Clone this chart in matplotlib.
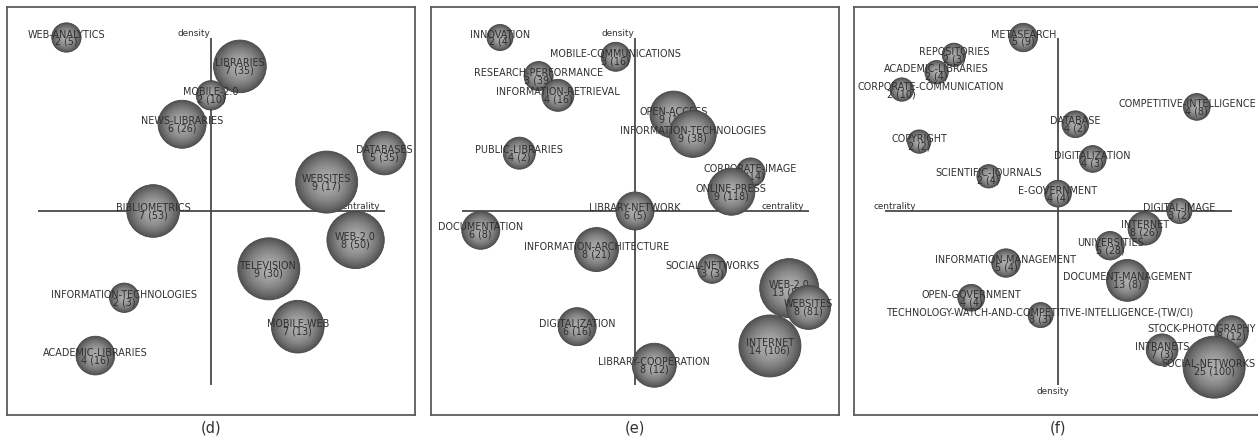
import matplotlib
matplotlib.use("Agg")
import matplotlib.pyplot as plt
from matplotlib.patches import Circle
import numpy as np

# ---------------- data (rank positions: centrality, density) ----------------
d_names = ["WEB-ANALYTICS", "LIBRARIES", "MOBILE-2.0", "NEWS-LIBRARIES", "DATABASES",
           "WEBSITES", "BIBLIOMETRICS", "WEB-2.0", "TELEVISION",
           "INFORMATION-TECHNOLOGIES", "MOBILE-WEB", "ACADEMIC-LIBRARIES"]
d_centrality = [-5, 1, 0, -1, 6, 4, -2, 5, 2, -3, 3, -4]
d_density = [6, 5, 4, 3, 2, 1, 0, -1, -2, -3, -4, -5]
d_docs = [2, 7, 2, 6, 5, 9, 7, 8, 9, 2, 7, 4]
d_cites = [5, 35, 10, 26, 35, 17, 53, 50, 30, 3, 13, 16]

e_names = ["INNOVATION", "MOBILE-COMMUNICATIONS", "RESEARCH-PERFORMANCE",
           "INFORMATION-RETRIEVAL", "OPEN-ACCESS", "INFORMATION-TECHNOLOGIES",
           "PUBLIC-LIBRARIES", "CORPORATE-IMAGE", "ONLINE-PRESS", "LIBRARY-NETWORK",
           "DOCUMENTATION", "INFORMATION-ARCHITECTURE", "SOCIAL-NETWORKS", "WEB-2.0",
           "WEBSITES", "DIGITALIZATION", "INTERNET", "LIBRARY-COOPERATION"]
e_centrality = [-7, -1, -5, -4, 2, 3, -6, 6, 5, 0, -8, -2, 4, 8, 9, -3, 7, 1]
e_density = [9, 8, 7, 6, 5, 4, 3, 2, 1, 0, -1, -2, -3, -4, -5, -6, -7, -8]
e_docs = [2, 3, 3, 4, 9, 9, 4, 3, 9, 6, 6, 8, 3, 13, 8, 6, 14, 8]
e_cites = [4, 16, 39, 16, 17, 38, 2, 14, 118, 5, 8, 21, 3, 85, 81, 16, 106, 12]

f_names = ["METASEARCH", "REPOSITORIES", "ACADEMIC-LIBRARIES", "CORPORATE-COMMUNICATION",
           "COMPETITIVE-INTELLIGENCE", "DATABASE", "COPYRIGHT", "DIGITALIZATION",
           "SCIENTIFIC-JOURNALS", "E-GOVERNMENT", "DIGITAL-IMAGE", "INTERNET",
           "UNIVERSITIES", "INFORMATION-MANAGEMENT", "DOCUMENT-MANAGEMENT",
           "OPEN-GOVERNMENT", "TECHNOLOGY-WATCH-AND-COMPETITIVE-INTELLIGENCE-(TW/CI)",
           "STOCK-PHOTOGRAPHY", "INTRANETS", "SOCIAL-NETWORKS"]
f_centrality = [-2, -6, -7, -9, 8, 1, -8, 2, -4, 0, 7, 5, 3, -3, 4, -5, -1, 10, 6, 9]
f_density = [10, 9, 8, 7, 6, 5, 4, 3, 2, 1, 0, -1, -2, -3, -4, -5, -6, -7, -8, -9]
f_docs = [5, 2, 2, 2, 4, 4, 2, 4, 2, 4, 3, 8, 5, 5, 13, 4, 3, 8, 7, 25]
f_cites = [9, 3, 4, 10, 8, 2, 2, 3, 4, 4, 2, 26, 28, 4, 8, 4, 3, 12, 3, 100]

panel_tags = ["(d)", "(e)", "(f)"]

# ---------------- layout ----------------
W, H, DPI = 1258, 437, 100
PANEL_LEFT_PX = [7, 431, 854]
PANEL_PX = 408
TOP_PX = 7
HALF_AXIS_PX = 173.5
BOX_HALF_PX = 204.0
FLIPPED = [False, False, True]
LABEL_FS = 6.95


def px2pt(p):
    return p * 72.0 / DPI


fig = plt.figure(figsize=(W / DPI, H / DPI), dpi=DPI)
fig.patch.set_facecolor("white")

edge_rgb = np.array([0x54, 0x54, 0x54]) / 255.0
center_rgb = np.array([0xae, 0xae, 0xae]) / 255.0
TXT = "#2f2f2f"

panels = [
    (d_names, d_centrality, d_density, d_docs, d_cites),
    (e_names, e_centrality, e_density, e_docs, e_cites),
    (f_names, f_centrality, f_density, f_docs, f_cites),
]

name_labels = []  # (annotation, axes, dy_pt)

for pi, (names, cen, den, docs, cites) in enumerate(panels):
    left = PANEL_LEFT_PX[pi]
    ax = fig.add_axes([left / W, (H - TOP_PX - PANEL_PX) / H, PANEL_PX / W, PANEL_PX / H])
    M = max(max(cen), max(den))
    L = BOX_HALF_PX * M / HALF_AXIS_PX
    ax.set_xlim(-L, L)
    ax.set_ylim(-L, L)
    ax.set_xticks([])
    ax.set_yticks([])
    for s in ax.spines.values():
        s.set_color("#5c5c5c")
        s.set_linewidth(1.3)

    ax.plot([-M, M], [0, 0], color="#4a4a4a", lw=1.3, zorder=1, solid_capstyle="butt")
    ax.plot([0, 0], [-M, M], color="#4a4a4a", lw=1.3, zorder=1, solid_capstyle="butt")

    if not FLIPPED[pi]:
        ax.annotate("density", xy=(0, M), xytext=(px2pt(-1), px2pt(1.5)),
                    textcoords="offset points", ha="right", va="baseline",
                    fontsize=6.4, color=TXT, zorder=2)
        ax.annotate("centrality", xy=(M, 0), xytext=(px2pt(-5), px2pt(2)),
                    textcoords="offset points", ha="right", va="baseline",
                    fontsize=6.4, color=TXT, zorder=2)
    else:
        ax.annotate("centrality", xy=(-M, 0), xytext=(px2pt(-11), px2pt(2)),
                    textcoords="offset points", ha="left", va="baseline",
                    fontsize=6.4, color=TXT, zorder=2)
        ax.annotate("density", xy=(0, -M), xytext=(px2pt(11), px2pt(-3)),
                    textcoords="offset points", ha="right", va="top",
                    fontsize=6.4, color=TXT, zorder=2)

    nmax = max(docs)
    NL = 24
    for i, (nm, x, y, n, c) in enumerate(zip(names, cen, den, docs, cites)):
        r_px = 10 + 21.0 * n / nmax
        r = r_px * M / HALF_AXIS_PX
        z = 3 + 2 * i
        for k in range(NL):
            t = 1 - k / NL
            col = center_rgb + (edge_rgb - center_rgb) * t ** 1.7
            ax.add_patch(Circle((x, y), r * t, facecolor=col, edgecolor="none", zorder=z))
        ax.add_patch(Circle((x, y), r, facecolor="none", edgecolor="#464646", lw=0.6, zorder=z))
        a = ax.annotate(nm, xy=(x, y), xytext=(0, px2pt(3)), textcoords="offset points",
                        ha="center", va="center", fontsize=LABEL_FS, color=TXT, zorder=z + 1)
        ax.annotate(f"{n} ({c})", xy=(x, y), xytext=(0, px2pt(-4.5)),
                    textcoords="offset points", ha="center", va="center",
                    fontsize=LABEL_FS, color=TXT, zorder=z + 1)
        name_labels.append((a, ax, px2pt(3)))

    fig.text((left + PANEL_PX / 2) / W, (H - 428) / H, panel_tags[pi],
             ha="center", va="center", fontsize=10.5, color="#333333")

# keep long labels inside the panel / image
fig.canvas.draw()
renderer = fig.canvas.get_renderer()
for a, ax, dy in name_labels:
    bb = a.get_window_extent(renderer)
    abb = ax.get_window_extent(renderer)
    lo = abb.x0 + 4
    hi = min(abb.x1, W) - 2
    shift = 0.0
    if bb.x0 < lo:
        shift = lo - bb.x0
    elif bb.x1 > hi:
        shift = hi - bb.x1
    if shift != 0.0:
        a.xyann = (px2pt(shift), dy)

fig.savefig("out.png", dpi=DPI, facecolor="white")
